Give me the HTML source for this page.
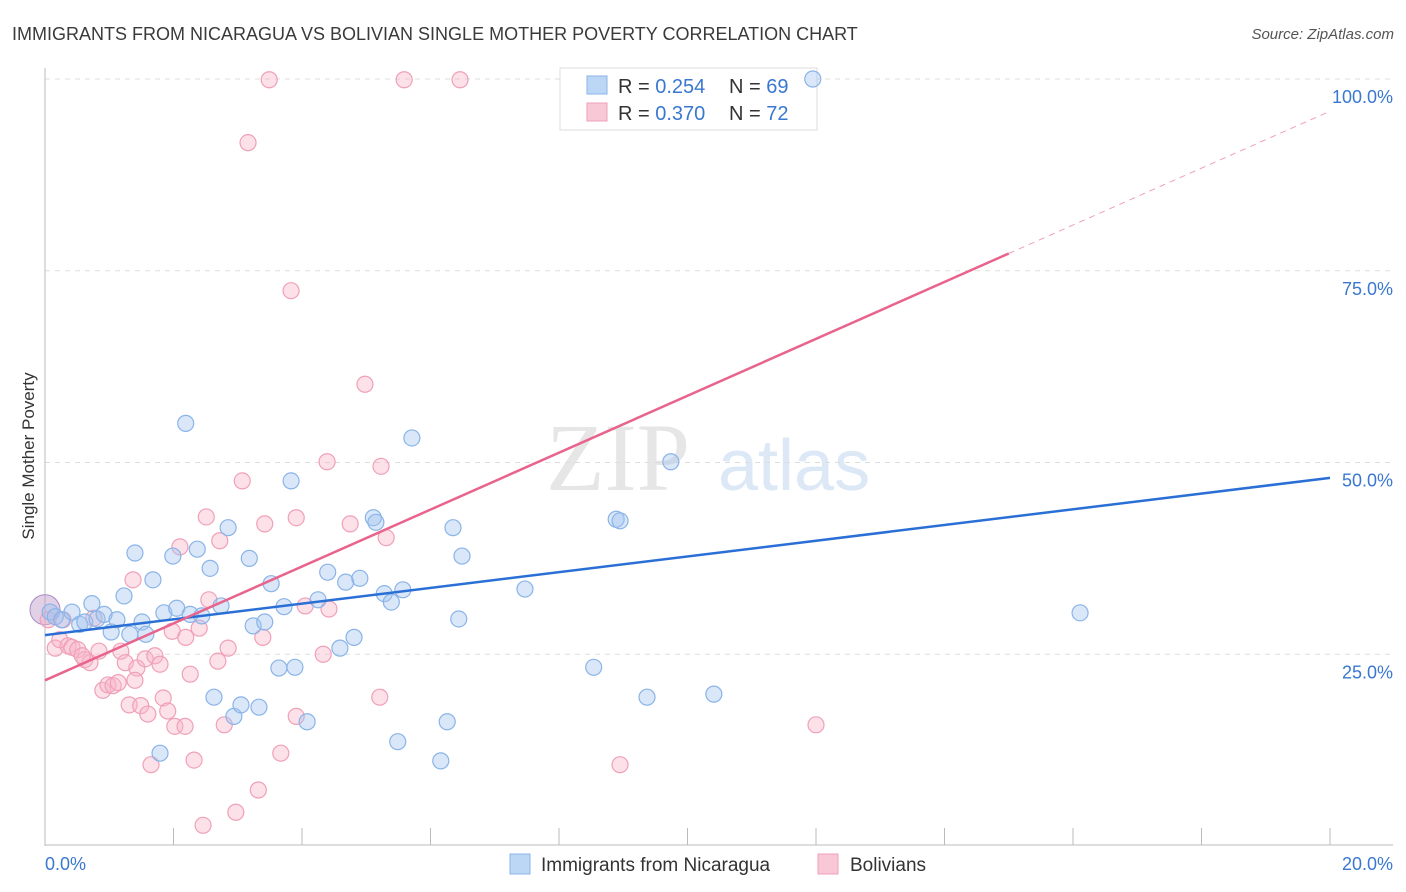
<!DOCTYPE html>
<html><head><meta charset="utf-8"><style>
body{margin:0;background:#fff;font-family:"Liberation Sans",sans-serif;}
svg{display:block}
</style></head><body>
<svg id="chart" width="1406" height="892">
<text x="12" y="40" font-size="18" fill="#3a3a3a">IMMIGRANTS FROM NICARAGUA VS BOLIVIAN SINGLE MOTHER POVERTY CORRELATION CHART</text>
<text x="1394" y="39" font-size="15" fill="#555" font-style="italic" text-anchor="end">Source: ZipAtlas.com</text>
<text x="690" y="490" font-size="96" fill="#e6e6e6" font-family="Liberation Serif" text-anchor="end">ZIP</text>
<text x="718" y="490" font-size="72" fill="#dce8f6">atlas</text>
<g id="grid"></g><g id="axes"></g>
<g>
<rect x="560" y="68" width="257" height="62" fill="#fff" stroke="#ddd"/>
<rect x="587" y="76" width="20" height="18" fill="#bcd6f5" stroke="#8ab4e8"/>
<text x="618" y="93" font-size="20" fill="#333">R = <tspan fill="#3a78d0">0.254</tspan></text>
<text x="729" y="93" font-size="20" fill="#333">N = <tspan fill="#3a78d0">69</tspan></text>
<rect x="587" y="103" width="20" height="18" fill="#f9c8d6" stroke="#f0a0b8"/>
<text x="618" y="120" font-size="20" fill="#333">R = <tspan fill="#3a78d0">0.370</tspan></text>
<text x="729" y="120" font-size="20" fill="#333">N = <tspan fill="#3a78d0">72</tspan></text>
</g>
<g id="pts"></g><g id="lines"></g>
<text x="34" y="456" font-size="17" fill="#333" text-anchor="middle" transform="rotate(-90 34 456)">Single Mother Poverty</text>
<g>
<rect x="510" y="854" width="20" height="20" fill="#bcd6f5" stroke="#8ab4e8"/>
<text x="541" y="871" font-size="19" fill="#333">Immigrants from Nicaragua</text>
<rect x="818" y="854" width="20" height="20" fill="#f9c8d6" stroke="#f0a0b8"/>
<text x="850" y="871" font-size="19" fill="#333">Bolivians</text>
</g>
</svg>
<script>
const blueX=[0.08,0.16,0.26,0.42,0.54,0.62,0.73,0.81,0.92,1.03,1.12,1.23,1.32,1.40,1.51,1.57,1.68,1.79,1.85,1.99,2.05,2.19,2.26,2.37,2.44,2.57,2.63,2.74,2.85,2.94,3.05,3.18,3.24,3.33,3.42,3.52,3.64,3.72,3.83,3.89,4.08,4.25,4.40,4.59,4.68,4.81,4.90,5.11,5.15,5.28,5.39,5.49,5.57,5.71,6.16,6.26,6.35,6.44,6.49,7.47,8.54,8.89,8.95,9.37,9.74,10.41,11.95,16.11];
const blueY=[30.5,29.9,29.5,30.5,28.9,29.2,31.6,29.6,30.2,27.9,29.5,32.6,27.6,38.2,29.2,27.6,34.7,12.1,30.4,37.8,31.0,55.1,30.2,38.7,30.0,36.2,19.4,31.3,41.5,16.9,18.4,37.5,28.7,18.1,29.2,34.2,23.2,31.2,47.6,23.3,16.2,32.1,35.7,25.8,34.4,27.2,34.9,42.8,42.2,32.9,31.8,13.6,33.4,53.2,11.1,16.2,41.5,29.6,37.8,33.5,23.3,42.6,42.4,19.4,50.1,19.8,100,30.4];
const pinkX=[0.05,0.16,0.23,0.36,0.42,0.51,0.62,0.70,0.76,0.84,0.90,0.98,1.06,1.14,1.18,1.25,1.31,1.37,1.43,1.49,1.56,1.60,1.65,1.71,1.79,1.84,1.91,1.98,2.02,2.10,2.18,2.19,2.26,2.32,2.40,2.46,2.51,2.55,2.69,2.72,2.79,2.85,2.97,3.07,3.16,3.32,3.39,3.42,3.49,3.67,3.83,3.91,3.91,4.05,4.33,4.39,4.42,4.75,4.98,5.21,5.23,5.31,5.59,6.46,8.95,12.0,0.28,0.58,1.40];
const pinkY=[29.5,25.8,26.9,26.1,25.9,25.6,24.3,23.9,29.7,25.4,20.3,21.0,20.9,21.3,25.4,23.9,18.4,34.7,23.2,18.3,24.4,17.2,10.6,24.8,23.7,19.3,17.6,28.0,15.6,39.0,15.6,27.2,22.4,11.2,28.4,2.7,42.9,32.1,24.1,39.8,15.8,25.8,4.4,47.6,91.7,7.3,27.2,42.0,99.9,12.1,72.4,42.8,16.9,31.3,25.0,50.1,30.9,42.0,60.2,19.4,49.5,40.2,99.9,99.9,10.6,15.8,29.5,24.8,21.6];
const blueIntercept=27.5, blueSlope=1.025;
const pinkIntercept=21.6, pinkSlope=3.71;
const yTicks=[25,50,75,100];
const NS='http://www.w3.org/2000/svg';
const X=v=>45+v*64.25, Y=v=>846-v*7.67;
function mk(tag,attrs,parent){const e=document.createElementNS(NS,tag);for(const k in attrs)e.setAttribute(k,attrs[k]);document.getElementById(parent).appendChild(e);return e;}
yTicks.forEach(t=>{
 const g=mk('line',{x1:45,x2:1393,y1:Y(t),y2:Y(t),stroke:'#ddd','stroke-dasharray':'5,5'},'grid');
 
 
 const l=mk('text',{x:1393,y:Y(t)+24,'font-size':18,fill:'#3a78d0','text-anchor':'end'},'grid');
 l.textContent=t.toFixed(1)+'%';
 
 
});
mk('line',{x1:45,x2:45,y1:68,y2:846,stroke:'#bbb'},'axes');
mk('line',{x1:45,x2:1393,y1:845,y2:845,stroke:'#bbb'},'axes');
for(let i=1;i<=10;i++){const t=mk('line',{x1:X(i*2),x2:X(i*2),y1:828,y2:845,stroke:'#bbb'},'axes');}
[[0,'0.0%','start',45],[20,'20.0%','end',1393]].forEach(a=>{const t=mk('text',{x:a[3],y:870,'font-size':18,fill:'#3a78d0','text-anchor':a[2]},'axes');t.textContent=a[1];});
let big=mk('circle',{cx:X(0),cy:Y(30.8),r:15,fill:'rgba(190,150,200,0.45)',stroke:'#a88cc8'},'pts');


pinkX.forEach((x,i)=>{const c=mk('circle',{cx:X(x),cy:Y(pinkY[i]),r:8,fill:'rgba(248,180,200,0.4)',stroke:'#f0a0b8','stroke-width':1.2},'pts');
 
 });
blueX.forEach((x,i)=>{const c=mk('circle',{cx:X(x),cy:Y(blueY[i]),r:8,fill:'rgba(160,196,240,0.4)',stroke:'#8ab4e8','stroke-width':1.2},'pts');
 
 });
let bl=mk('line',{x1:X(0),y1:Y(blueIntercept),x2:X(20),y2:Y(blueIntercept+20*blueSlope),stroke:'#2a6fd6','stroke-width':2.5},'lines');


let pl=mk('line',{x1:X(0),y1:Y(pinkIntercept),x2:X(15),y2:Y(pinkIntercept+15*pinkSlope),stroke:'#e8648c','stroke-width':2.5},'lines');


let pd=mk('line',{x1:X(15),y1:Y(pinkIntercept+15*pinkSlope),x2:X(20),y2:Y(pinkIntercept+20*pinkSlope),stroke:'#f0a0b8','stroke-width':1,'stroke-dasharray':'6,5'},'lines');


</script>
</body></html>
